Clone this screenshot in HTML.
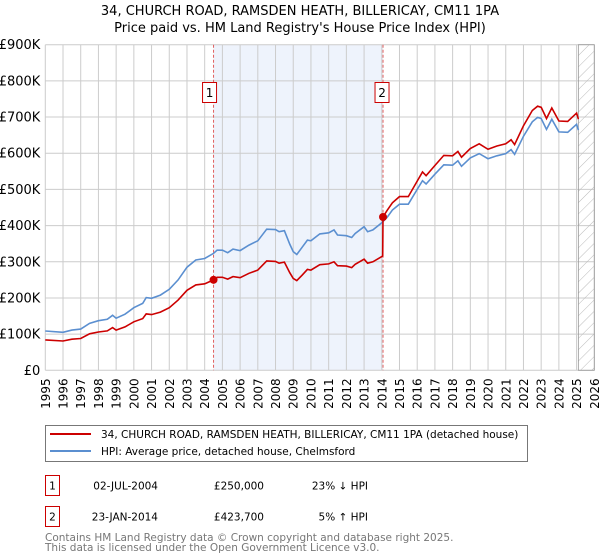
<!DOCTYPE html>
<html><head><meta charset="utf-8"><style>
body{margin:0;background:#fff;}
svg{display:block;font-family:"DejaVu Sans","Liberation Sans",sans-serif;}
</style></head><body>
<svg id="chart" width="600" height="560" xmlns="http://www.w3.org/2000/svg">
<defs>
<pattern id="hatch" patternUnits="userSpaceOnUse" width="8" height="8" patternTransform="rotate(45)">
<line x1="0" y1="0" x2="0" y2="8" stroke="#bbb" stroke-width="1"/>
</pattern>
</defs>
<text x="300" y="15" text-anchor="middle" font-size="13" fill="#000">34, CHURCH ROAD, RAMSDEN HEATH, BILLERICAY, CM11 1PA</text>
<text x="300" y="32" text-anchor="middle" font-size="13" fill="#000">Price paid vs. HM Land Registry's House Price Index (HPI)</text>
<g id="plot"></g>
<g>
<rect x="45.5" y="425.5" width="482" height="36" fill="#fff" stroke="#777"/>
<line x1="50" y1="434" x2="91" y2="434" stroke="#cc0000" stroke-width="2"/>
<text x="101" y="438" font-size="10.5">34, CHURCH ROAD, RAMSDEN HEATH, BILLERICAY, CM11 1PA (detached house)</text>
<line x1="50" y1="451" x2="91" y2="451" stroke="#5b8fd0" stroke-width="2"/>
<text x="101" y="455" font-size="10.5">HPI: Average price, detached house, Chelmsford</text>
</g>
<g font-size="10.5">
<rect x="45.5" y="475.5" width="14" height="20" fill="#fff" stroke="#cc0000"/>
<text x="52.5" y="489.5" text-anchor="middle">1</text>
<text x="158" y="489.5" text-anchor="end">02-JUL-2004</text>
<text x="264" y="489.5" text-anchor="end">£250,000</text>
<text x="368" y="489.5" text-anchor="end">23% ↓ HPI</text>
<rect x="45.5" y="506.5" width="14" height="20" fill="#fff" stroke="#cc0000"/>
<text x="52.5" y="520.5" text-anchor="middle">2</text>
<text x="158" y="520.5" text-anchor="end">23-JAN-2014</text>
<text x="264" y="520.5" text-anchor="end">£423,700</text>
<text x="368" y="520.5" text-anchor="end">5% ↑ HPI</text>
</g>
<text x="45" y="541" font-size="10.5" fill="#777">Contains HM Land Registry data © Crown copyright and database right 2025.</text>
<text x="45" y="551" font-size="10.5" fill="#777">This data is licensed under the Open Government Licence v3.0.</text>
</svg>
<script>
const hpiYears=[1995,1996,1996.5,1997,1997.5,1998,1998.5,1998.8,1999,1999.5,2000,2000.5,2000.7,2001,2001.5,2002,2002.5,2003,2003.5,2004,2004.5,2004.7,2005,2005.3,2005.6,2006,2006.5,2007,2007.5,2008,2008.2,2008.5,2008.8,2009,2009.2,2009.5,2009.8,2010,2010.5,2011,2011.3,2011.5,2012,2012.3,2012.5,2013,2013.2,2013.5,2014,2014.3,2014.6,2015,2015.5,2016,2016.3,2016.5,2017,2017.5,2018,2018.3,2018.5,2019,2019.5,2020,2020.5,2021,2021.3,2021.5,2022,2022.5,2022.8,2023,2023.3,2023.6,2024,2024.5,2025,2025.1];
const hpiValues=[108.7,105,111,114,130,137,141,152,144,155,173,185,201,199,208,224,250,285,305,309,323,332,332,325,335,331,346,358,390,389,383,386,349,328,320,340,360,358,377,380,388,374,372,367,378,397,383,388,408,423,443,459,459,500,524,515,542,568,567,579,564,587,599,585,593,599,610,597,647,687,699,696,666,694,659,658,680,664];
const priceYears=[1995,1996,1996.5,1997,1997.5,1998,1998.5,1998.8,1999,1999.5,2000,2000.5,2000.7,2001,2001.5,2002,2002.5,2003,2003.5,2004,2004.5,2004.7,2005,2005.3,2005.6,2006,2006.5,2007,2007.5,2008,2008.2,2008.5,2008.8,2009,2009.2,2009.5,2009.8,2010,2010.5,2011,2011.3,2011.5,2012,2012.3,2012.5,2013,2013.2,2013.5,2014.05,2014.07,2014.3,2014.6,2015,2015.5,2016,2016.3,2016.5,2017,2017.5,2018,2018.3,2018.5,2019,2019.5,2020,2020.5,2021,2021.3,2021.5,2022,2022.5,2022.8,2023,2023.3,2023.6,2024,2024.5,2025,2025.1];
const priceValues=[84,81,86,88,101,106,109,118,111,120,134,143,156,154,161,173,194,221,236,239,250,257,257,252,259,256,268,277,302,301,296,299,270,254,248,263,279,277,292,294,300,289,288,284,293,307,296,300,316,423.7,442,463,480,480,523,548,538,566,594,593,605,589,613,626,611,620,626,637,624,676,718,730,727,696,725,689,688,711,694];
const yTicks=[0,100,200,300,400,500,600,700,800,900];
const yTickLabels=["£0","£100K","£200K","£300K","£400K","£500K","£600K","£700K","£800K","£900K"];
const xTicks=[1995,1996,1997,1998,1999,2000,2001,2002,2003,2004,2005,2006,2007,2008,2009,2010,2011,2012,2013,2014,2015,2016,2017,2018,2019,2020,2021,2022,2023,2024,2025,2026];
const saleYears=[2004.5,2014.07];
const saleValues=[250,423.7];
const saleLabels=["1","2"];

const X0=45.3,X1=594.3,Y0=370.3,Y900=44.7;
const xs=y=>X0+(y-1995)*(X1-X0)/31;
const ys=v=>Y0-v*(Y0-Y900)/900;
const NS="http://www.w3.org/2000/svg";
const g=document.getElementById('plot');
function mk(t,a,p){const e=document.createElementNS(NS,t);for(const k in a)e.setAttribute(k,a[k]);(p||g).appendChild(e);return e;}

const shade=mk('rect',{x:xs(saleYears[0]),y:Y900,width:xs(saleYears[1])-xs(saleYears[0]),height:Y0-Y900,fill:'#eef3fc'});



xTicks.forEach(t=>{
 const l=mk('line',{x1:xs(t),x2:xs(t),y1:Y900,y2:Y0,stroke:'#cccccc','stroke-width':1});
 
 
 const tx=mk('text',{x:0,y:0,'font-size':12,'text-anchor':'end',transform:`translate(${xs(t)+4.5},${Y0+8}) rotate(-90)`});
 
 
 tx.textContent=t;
});
yTicks.forEach((t,i)=>{
 const l=mk('line',{x1:X0,x2:X1,y1:ys(t),y2:ys(t),stroke:'#cccccc','stroke-width':1});
 
 
 const tx=mk('text',{x:X0-5,y:ys(t)+4.5,'font-size':13,'text-anchor':'end'});
 
 
 tx.textContent=yTickLabels[i];
});
const hatch=mk('rect',{x:xs(2025.1),y:Y900,width:X1-xs(2025.1),height:Y0-Y900,fill:'url(#hatch)',stroke:'#999','stroke-width':0.8});



saleYears.forEach((s,i)=>{
 const l=mk('line',{x1:xs(s),x2:xs(s),y1:Y900,y2:Y0,stroke:'#e06060','stroke-width':1,'stroke-dasharray':'3,2'});
 
 
 const bx=xs(s)-(i==0?4:1);
 const r=mk('rect',{x:bx-7,y:82.5,width:14,height:20,fill:'#fff',stroke:'#cc0000'});
 
 
 const t=mk('text',{x:bx,y:97,'font-size':12,'text-anchor':'middle'});
 
 
 t.textContent=saleLabels[i];
});

function path(xsArr,vArr){return xsArr.map((y,i)=>(i?'L':'M')+xs(y).toFixed(1)+','+ys(vArr[i]).toFixed(1)).join(' ');}
const hp=mk('path',{d:path(hpiYears,hpiValues),fill:'none',stroke:'#5b8fd0','stroke-width':1.6});


const pp=mk('path',{d:path(priceYears,priceValues),fill:'none',stroke:'#cc0000','stroke-width':1.6});


saleYears.forEach((s,i)=>{
 const c=mk('circle',{cx:xs(s),cy:ys(saleValues[i]),r:4,fill:'#cc0000'});
 
 
});
</script>
</body></html>
